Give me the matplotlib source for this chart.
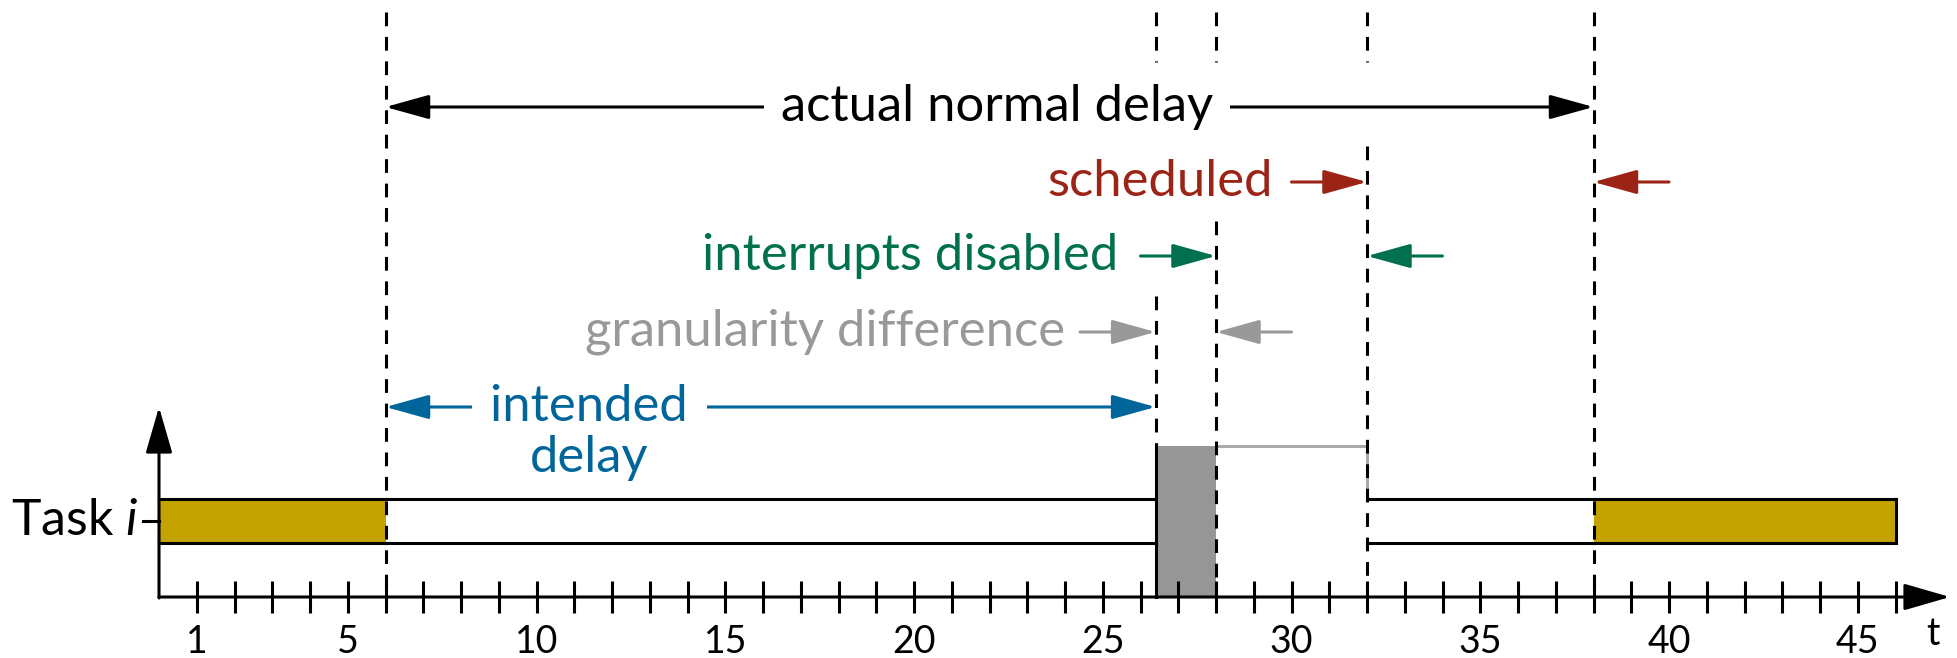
import numpy as np
import matplotlib
matplotlib.use("Agg")
import matplotlib.pyplot as plt
from matplotlib.patches import Rectangle

# ---------------- data ----------------
t_request = 6        # task goes to sleep, requests delay
t_intended = 26.4    # intended wake-up time
t_tick = 28          # next timer tick (granularity)
t_irq = 32           # interrupts enabled again
t_sched = 38         # task actually scheduled
t_end = 46

ticks = np.arange(1, 47)
tick_labels = [1, 5, 10, 15, 20, 25, 30, 35, 40, 45]

run_segments = [(0, t_request), (t_sched, t_end)]          # yellow (running)
wait_segments = [(t_request, t_intended), (t_irq, t_sched)]  # white (sleeping)

YELLOW = "#C4A300"
RED = "#9B2417"
GREEN = "#00704F"
BLUE = "#00659B"
GRAY = "#999999"

plt.rcParams["font.family"] = ["Lato", "DejaVu Sans"]
plt.rcParams["mathtext.fontset"] = "custom"
plt.rcParams["mathtext.it"] = "Lato:italic"
plt.rcParams["mathtext.rm"] = "Lato"

# pixel geometry (y in pixels from top, x in time units)
px_per_t = 37.75
x0_px = 159
y_axis = 597
y_bar_top, y_bar_bot = 499, 543
y_block_top = 446
LW = 2.2

fig = plt.figure(figsize=(19.57, 6.58), dpi=100)
ax = fig.add_axes([0, 0, 1, 1])
ax.set_xlim(-x0_px / px_per_t, (1957 - x0_px) / px_per_t)
ax.set_ylim(658, 0)
ax.axis("off")


def arrow(tail, tip, y, color, style="-|>"):
    ax.annotate("", xy=(tip, y), xytext=(tail, y),
                arrowprops=dict(arrowstyle=style + ",head_length=1.8,head_width=0.5",
                                color=color, lw=LW, mutation_scale=15,
                                shrinkA=0, shrinkB=0), zorder=5)


# ---- task bar ----
for a, b in run_segments:
    ax.add_patch(Rectangle((a, y_bar_top), b - a, y_bar_bot - y_bar_top,
                           facecolor=YELLOW, edgecolor="none", zorder=2))
for a, b in run_segments + wait_segments:
    ax.plot([a, b], [y_bar_top, y_bar_top], color="black", lw=LW, zorder=3)
    ax.plot([a, b], [y_bar_bot, y_bar_bot], color="black", lw=LW, zorder=3)
ax.plot([t_end, t_end], [y_bar_top, y_bar_bot], color="black", lw=LW, zorder=3)

# granularity block (gray) and interrupts disabled box
ax.add_patch(Rectangle((t_intended, y_block_top), t_tick - t_intended, y_axis - y_block_top,
                       facecolor="#969696", edgecolor="none", zorder=2))
ax.plot([t_intended, t_intended], [y_block_top, y_axis], color="black", lw=LW, zorder=4)
ax.plot([t_tick, t_irq, t_irq], [y_block_top, y_block_top, y_bar_top], color="#aaaaaa",
        lw=LW, zorder=2)

# ---- dashed markers ----
dash = (0, (4.5, 3.5))
marker_segments = {
    t_request: [(12, y_axis)],
    t_intended: [(12, 62), (296, y_block_top)],
    t_tick: [(12, 62), (221, y_axis)],
    t_irq: [(12, 62), (146, y_axis)],
    t_sched: [(12, y_axis)],
}
for xm, segs in marker_segments.items():
    for ya, yb in segs:
        ax.plot([xm, xm], [ya, yb], color="black", lw=LW, linestyle=dash, zorder=4)

# ---- axes ----
x_tip = (1950 - x0_px) / px_per_t
ax.annotate("", xy=(x_tip, y_axis), xytext=(0, y_axis),
            arrowprops=dict(arrowstyle="-|>,head_length=1.9,head_width=0.55", color="black",
                            lw=LW, mutation_scale=15, shrinkA=0, shrinkB=0), zorder=5)
ax.annotate("", xy=(0, 407), xytext=(0, y_axis + 1),
            arrowprops=dict(arrowstyle="-|>,head_length=1.9,head_width=0.55", color="black",
                            lw=LW, mutation_scale=15, shrinkA=0, shrinkB=0), zorder=5)
ax.vlines(ticks, y_axis - 16, y_axis + 16, color="black", lw=LW, zorder=5)
for v in tick_labels:
    ax.text(v, 642, str(v), ha="center", va="center", fontsize=27)
ax.text(47.0, 634, "t", ha="center", va="center", fontsize=27)

ax.plot([-16 / px_per_t, 0], [521, 521], color="black", lw=LW, zorder=5)
ax.text(-0.55, 521, r"Task $i$", ha="right", va="center", fontsize=36)

# ---- annotations ----
FS = 36.5
arrow(t_sched, t_request, 107, "black", style="<|-|>")
ax.text(22.2, 107, "actual normal delay", ha="center", va="center", fontsize=FS,
        color="black", zorder=6,
        bbox=dict(facecolor="white", edgecolor="none", pad=12))

arrow(t_irq - 2, t_irq, 182, RED)
arrow(t_sched + 2, t_sched, 182, RED)
ax.text(t_irq - 2.5, 182, "scheduled", ha="right", va="center", fontsize=FS, color=RED)

arrow(t_tick - 2, t_tick, 256, GREEN)
arrow(t_irq + 2, t_irq, 256, GREEN)
ax.text(t_tick - 2.6, 256, "interrupts disabled", ha="right", va="center", fontsize=FS,
        color=GREEN)

arrow(t_intended - 2, t_intended, 332, GRAY)
arrow(t_tick + 2, t_tick, 332, GRAY)
ax.text(t_intended - 2.4, 332, "granularity difference", ha="right", va="center",
        fontsize=FS, color=GRAY)

arrow(t_intended, t_request, 407, BLUE, style="<|-|>")
ax.text(11.4, 407, " intended ", ha="center", va="center", fontsize=FS, color=BLUE, zorder=6,
        bbox=dict(facecolor="white", edgecolor="none", pad=4))
ax.text(11.4, 458, "delay", ha="center", va="center", fontsize=FS, color=BLUE, zorder=7)

fig.savefig("out.png", dpi=100)
